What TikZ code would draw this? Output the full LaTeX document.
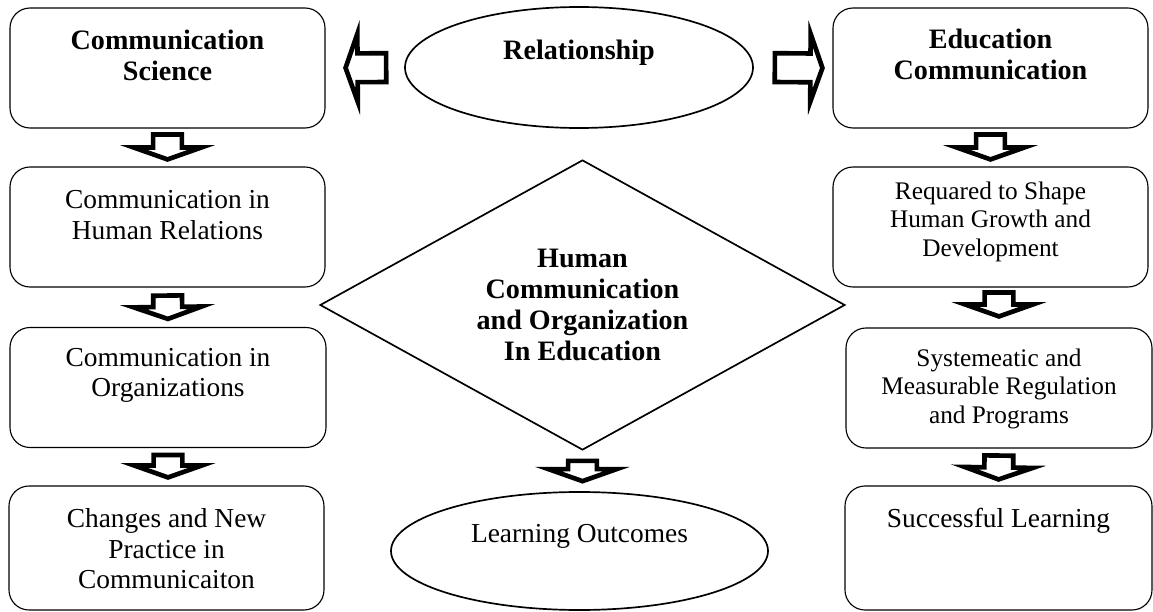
\documentclass[tikz,border=0pt]{standalone}
\usepackage{fontspec}
\setmainfont{Liberation Serif}
\usetikzlibrary{shapes.geometric,positioning,calc}
\tikzset{box/.style={
            draw,
            rounded corners=0.5cm,
            line width=0.8pt,
            inner sep=0pt,
            minimum width=7.875cm,
            minimum height=3cm
        },
        oval/.style={
            draw,
            ellipse,
            line width=1.2pt,
            inner sep=0pt
        },
        boxtext/.style={
            align=center,
            inner sep=0pt,
            font=\fontsize{19.5}{21.6}\selectfont
        },
        smalltext/.style={
            boxtext,
            font=\fontsize{18}{20.2}\selectfont
        },
        headtext/.style={
            boxtext,
            font=\fontsize{20}{22}\selectfont\bfseries
        },
        hollow/.style={
            draw,
            fill=white,
            line width=3.3pt,
            line join=miter
        }
    }

% sizes of the block arrows
\newcommand{\shaftw}{0.36cm}
\newcommand{\headw}{0.85cm}
\newcommand{\headlen}{0.3cm}
% block arrow: from, to, gap at start, gap at end
\newcommand{\hollowarrow}[4]{%
    \path ($(#1)!#3!(#2)$) coordinate (ha-s)
          ($(#2)!#4!(#1)$) coordinate (ha-e);
    \path ($(ha-e)!\headlen!(ha-s)$) coordinate (ha-b);
    \draw[hollow] ($(ha-s)!\shaftw!90:(ha-e)$)
        -- ($(ha-b)!\shaftw!-90:(ha-s)$)
        -- ($(ha-b)!\headw!-90:(ha-s)$)
        -- (ha-e)
        -- ($(ha-b)!\headw!90:(ha-s)$)
        -- ($(ha-b)!\shaftw!90:(ha-s)$)
        -- ($(ha-s)!\shaftw!-90:(ha-e)$)
        -- cycle;
}

\begin{document}
\begin{tikzpicture}
    \useasboundingbox (0,0) rectangle (28.825,-15.3);

    % left column
    \node[box] (l1) at (4.1875,-1.70) {};
    \node[box] (l2) at (4.1875,-5.675) {};
    \node[box, minimum width=7.9cm] (l3) at (4.20,-9.6875) {};
    \node[box, minimum height=3.1cm] (l4) at (4.1625,-13.70) {};

    \node[headtext, below=0.55cm of l1.north] (l1-t) {Communication\\Science};
    \node[boxtext, below=0.6cm of l2.north] (l2-t) {Communication in\\Human Relations};
    \node[boxtext, below=0.53cm of l3.north] (l3-t) {Communication in\\Organizations};
    \node[boxtext, below=0.575cm of l4.north] (l4-t) {Changes and New\\Practice in\\Communicaiton};

    % right column
    \node[box] (r1) at (24.7625,-1.70) {};
    \node[box] (r2) at (24.7625,-5.675) {};
    \node[box, minimum width=7.65cm] (r3) at (24.975,-9.70) {};
    \node[box, minimum width=7.675cm, minimum height=3.1cm] (r4) at (24.9625,-13.70) {};

    \node[headtext, below=0.525cm of r1.north] (r1-t) {Education\\Communication};
    \node[smalltext, below=0.38cm of r2.north] (r2-t) {Requared to Shape\\Human Growth and\\Development};
    \node[smalltext, below=0.53cm of r3.north] (r3-t) {Systemeatic and\\Measurable Regulation\\and Programs};
    \node[boxtext, below=0.55cm of r4.north] (r4-t) {Successful Learning};

    % middle
    \node[oval, minimum width=8.7cm, minimum height=3.025cm] (rel) at (14.475,-1.6875) {};
    \node[headtext, anchor=base] (rel-t) at (14.475,-1.5) {Relationship};

    \node[draw, diamond, aspect=1.8, line width=1.2pt, minimum width=13.125cm, minimum height=7.25cm,
          headtext] (hub) at (14.5625,-7.625) {Human\\Communication\\and Organization\\In Education};

    \node[oval, minimum width=9.425cm, minimum height=2.95cm] (out) at (14.4875,-13.775) {};
    \node[boxtext, anchor=base] (out-t) at (14.4875,-13.55) {Learning Outcomes};

    % block arrows
    \hollowarrow{rel.west}{l1.east}{0.45cm}{0.5cm}
    \hollowarrow{rel.east}{r1.west}{0.525cm}{0.25cm}

    \hollowarrow{l1.south}{l2.north}{0.15cm}{0.175cm}
    \hollowarrow{l2.south}{l3.north}{0.2cm}{0.2cm}
    \hollowarrow{l3.south}{l3.south |- l4.north}{0.175cm}{0.2cm}

    \hollowarrow{r1.south}{r2.north}{0.15cm}{0.175cm}
    \hollowarrow{r3.north |- r2.south}{r3.north}{0.125cm}{0.275cm}
    \hollowarrow{r3.south}{r4.north}{0.175cm}{0.15cm}

    \hollowarrow{hub.south}{hub.south |- out.north}{0.25cm}{0.25cm}
\end{tikzpicture}
\end{document}
